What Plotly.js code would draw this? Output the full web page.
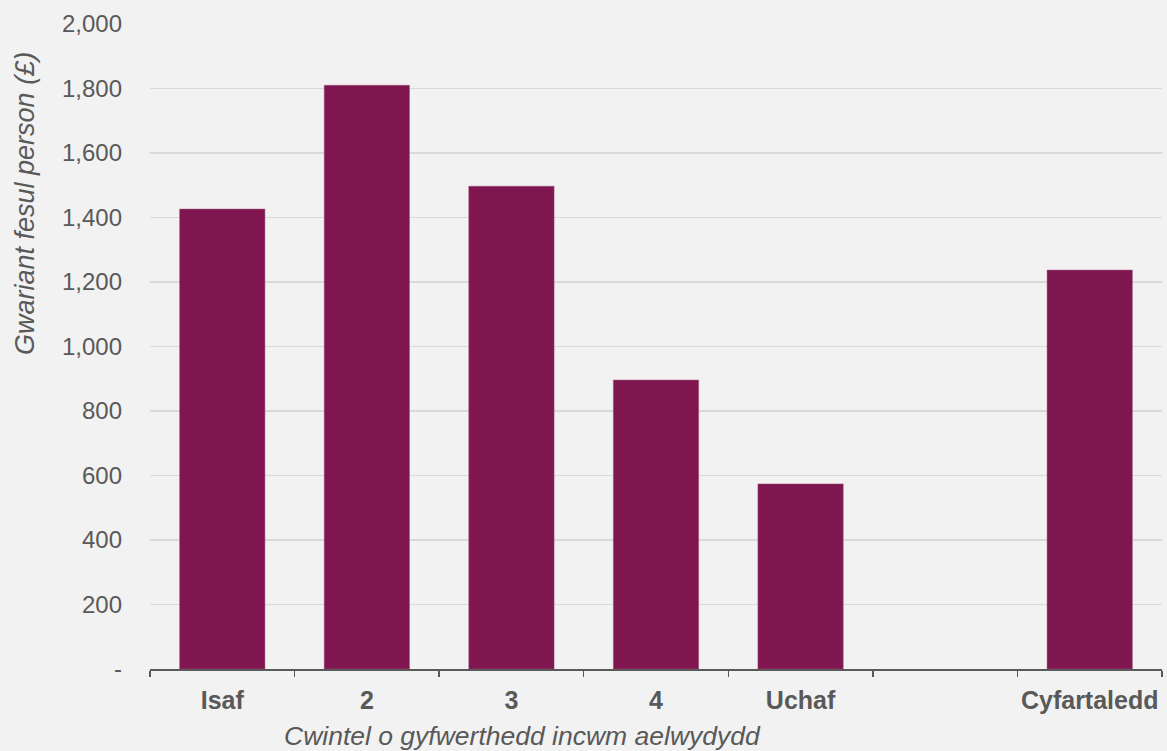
<!DOCTYPE html>
<html><head><meta charset="utf-8">
<script src="https://cdn.plot.ly/plotly-3.0.1.min.js"></script>
<style>html,body{margin:0;padding:0;background:#f2f2f2;}</style>
</head><body>
<div id="chart" style="width:1167px;height:751px;"></div>
<script>
const categories = ["Isaf", "2", "3", "4", "Uchaf", " ", "Cyfartaledd"];
const values = [1426, 1810, 1497, 896, 574, null, 1237];
const yTickVals = [0, 200, 400, 600, 800, 1000, 1200, 1400, 1600, 1800, 2000];
const yTickText = ["-", "200", "400", "600", "800", "1,000", "1,200", "1,400", "1,600", "1,800", "2,000"];
const xTitle = "Cwintel o gyfwerthedd incwm aelwydydd";
const yTitle = "Gwariant fesul person (£)";

const font = "Liberation Sans, Arial, sans-serif";
Plotly.newPlot("chart", [{
  type: "bar", x: categories, y: values,
  marker: {color: "#7f164f", line: {color: "#a0507a", width: 0.5}},
  hoverinfo: "x+y"
}], {
  width: 1167, height: 751,
  paper_bgcolor: "#f2f2f2", plot_bgcolor: "#f2f2f2",
  margin: {l: 150, r: 5, t: 24, b: 82},
  bargap: 0.41,
  showlegend: false,
  font: {family: font, color: "#595959", size: 24},
  xaxis: {
    type: "category", tickson: "boundaries", ticks: "outside", ticklen: 6, tickcolor: "#595959", tickwidth: 1.5,
    showline: true, linecolor: "#595959", linewidth: 1.5, showgrid: false, tickangle: 0,
    ticklabelstandoff: 8,
    tickfont: {family: font, size: 25, color: "#595959", weight: "bold"},
    fixedrange: true
  },
  yaxis: {
    range: [0, 2000], tickvals: yTickVals, ticktext: yTickText,
    showgrid: true, gridcolor: "#d9d9d9", gridwidth: 1.5, zeroline: false,
    ticks: "", ticklabelstandoff: 27,
    tickfont: {family: font, size: 24, color: "#595959"},
    fixedrange: true
  },
  annotations: [
    {text: xTitle, xref: "paper", yref: "paper", x: (522-150)/1012, y: -(736-669)/645, showarrow: false,
     xanchor: "center", yanchor: "middle", font: {family: font, size: 26.5, color: "#595959", style: "italic"}},
    {text: yTitle, xref: "paper", yref: "paper", x: -(150-25)/1012, y: (669-204)/645, showarrow: false, textangle: -90,
     xanchor: "center", yanchor: "middle", font: {family: font, size: 27, color: "#595959", style: "italic"}}
  ]
}, {displayModeBar: false, staticPlot: true});
</script>
</body></html>
